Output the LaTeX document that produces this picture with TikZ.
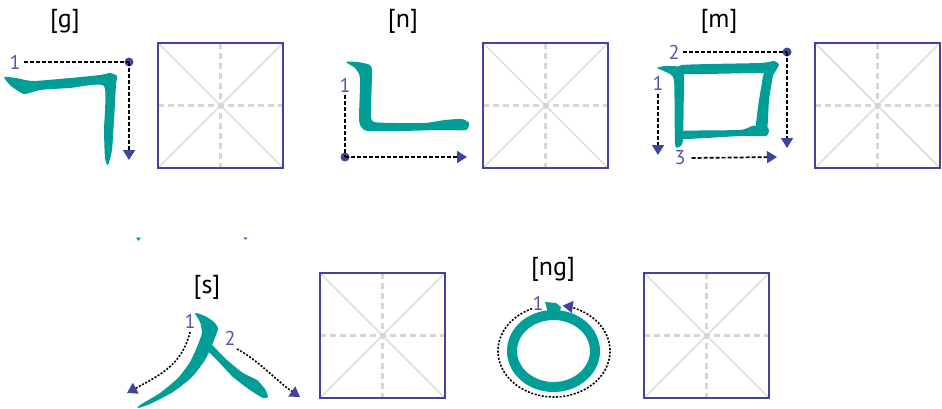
\documentclass[tikz,border=0pt]{standalone}
\usepackage{fontspec}
\setmainfont{PT Sans}
\usetikzlibrary{arrows.meta}
\definecolor{stk}{RGB}{0,158,150}
\definecolor{gblue}{RGB}{66,68,156}
\definecolor{nblue}{RGB}{84,86,172}
\definecolor{ggray}{RGB}{214,214,214}
\tikzset{
  lbl/.style={font=\fontsize{26}{30}\selectfont, text=black, inner sep=0pt},
  num/.style={font=\fontsize{20}{24}\selectfont, text=nblue, inner sep=0pt},
  guide/.style={black, line width=1.7pt, dash pattern=on 4pt off 2pt},
  dotguide/.style={black, line width=1.6pt, dash pattern=on 2pt off 1.6pt},
  tip/.style={-{Triangle[length=10pt,width=12pt,color=gblue]}},
  startdot/.style={circle, fill=gblue, inner sep=0pt, minimum size=9pt},
  inkstroke/.style={fill=stk},
  gridbox/.pic={
    \draw[ggray, line width=1.2pt] (0,0) -- (125,125) (125,0) -- (0,125);
    \draw[ggray, line width=2.4pt, dash pattern=on 6pt off 4pt] (62.5,0) -- (62.5,125) (0,62.5) -- (125,62.5);
    \draw[gblue, line width=1.8pt] (0,0) rectangle (125,125);
  }
}
\begin{document}
\begin{tikzpicture}[x=1pt, y=-1pt]
\useasboundingbox (0,0) rectangle (942,408);

% grid boxes
\pic at (158,43) {gridbox};
\pic at (483,43) {gridbox};
\pic at (815,43) {gridbox};
\pic at (320,273) {gridbox};
\pic at (644,273) {gridbox};

% labels
\node[lbl] (lg) at (65,21) {[g]};
\node[lbl] (ln) at (403,21) {[n]};
\node[lbl] (lm) at (719,21) {[m]};
\node[lbl] (ls) at (207,287) {[s]};
\node[lbl] (lng) at (553,269) {[ng]};

% ---------- [g] ----------
\fill[inkstroke] plot[smooth cycle, tension=0.35] coordinates {
 (4,77) (16,78) (33,81) (70,78) (100,75) (110,73) (117,76) (116,85) (114,120) (112,150) (108,165)
 (105,158) (104,130) (104,86) (70,88) (40,90) (24,94) (11,86)};
\node[num] (g1) at (15,62) {1};
\node[startdot] (gdot) at (129,62) {};
\coordinate (gend) at (129,160);
\draw[guide] (g1.east) ++(3pt,0) -- (gdot.center);
\draw[guide,tip] (gdot.center) -- (gend);

% ---------- [n] ----------
\fill[inkstroke] plot[smooth cycle, tension=0.35] coordinates {
 (346,62) (358,62) (370,65) (372,72) (371,115) (374,122) (395,123) (425,123) (445,120) (462,119)
 (469,123) (466,130) (440,130) (400,131) (368,131) (361,127) (359,118) (360,78) (355,68)};
\node[num] (n1) at (345,85) {1};
\node[startdot] (ndot) at (345,157) {};
\coordinate (nend) at (467,157);
\draw[guide] (n1.south) ++(0,-3pt) -- (ndot.center);
\draw[guide,tip] (ndot.center) -- (nend);

% ---------- [m] ----------
\fill[inkstroke] plot[smooth cycle, tension=0.3] coordinates {
 (657,68) (665,66) (683,67) (684,75) (683,140) (679,147) (675,144) (674,80) (666,72)};
\fill[inkstroke] plot[smooth cycle, tension=0.3] coordinates {
 (682,65) (760,63) (774,61) (779,65) (773,76) (769,100) (767,129) (757,131) (756,124) (759,100)
 (763,76) (760,73) (682,74)};
\fill[inkstroke] plot[smooth cycle, tension=0.3] coordinates {
 (682,131) (740,130) (752,126) (765,125) (769,130) (766,136) (740,136) (682,139)};
\node[num] (m1) at (658,83) {1};
\coordinate (m1end) at (658,155);
\draw[guide,tip] (m1.south) ++(0,-4pt) -- (m1end);
\node[num] (m2) at (674,52) {2};
\node[startdot] (mdot) at (787,52) {};
\coordinate (m2end) at (787,148);
\draw[guide] (m2.east) ++(3pt,0) -- (mdot.center);
\draw[guide,tip] (mdot.center) -- (m2end);
\node[num] (m3) at (680,158) {3};
\coordinate (m3end) at (777,157);
\draw[guide,tip] (m3.east) ++(6pt,0) -- (m3end);

% ---------- [s] ----------
\fill[inkstroke] plot[smooth cycle, tension=0.35] coordinates {
 (195,313) (205,316) (214,322) (218,329) (212,345) (205,360) (192,377) (173,392) (150,404) (138,408)
 (140,405) (160,393) (178,378) (190,362) (197,347) (202,333) (200,322)};
\fill[inkstroke] plot[smooth cycle, tension=0.35] coordinates {
 (207,343) (210,343) (227,360) (243,373) (257,380) (265,389) (268,397) (263,398) (250,390)
 (233,377) (217,360) (207,350)};
\node[num] (s1) at (190,321) {1};
\coordinate (s1a) at (190,332);
\coordinate (s1end) at (127,393);
\draw[dotguide,tip] (s1a) .. controls (182,365) and (160,375) .. (s1end);
\node[num] (s2) at (230,338) {2};
\coordinate (s2a) at (237,349);
\coordinate (s2end) at (300,397);
\draw[dotguide,tip] (s2a) .. controls (258,360) and (278,382) .. (s2end);

% ---------- [ng] ----------
\draw[stk, line width=10pt] (553.5,351) ellipse [x radius=41.5pt, y radius=36pt];
\fill[inkstroke] (545,302) -- (556,303) -- (561,307) -- (559,316) -- (549,316) -- cycle;
\node[num] (ng1) at (538,303) {1};
\draw[dotguide,tip] plot[domain=0:328, samples=120, smooth] ({554+56*cos(247-\x)}, {351+46*sin(247-\x)});

% tiny marks
\fill[stk] (136,237.5) -- (141,237.5) -- (138.5,241) -- cycle;
\fill[gblue] (243,237.5) -- (248,237.5) -- (245.5,239.5) -- cycle;
\end{tikzpicture}
\end{document}
